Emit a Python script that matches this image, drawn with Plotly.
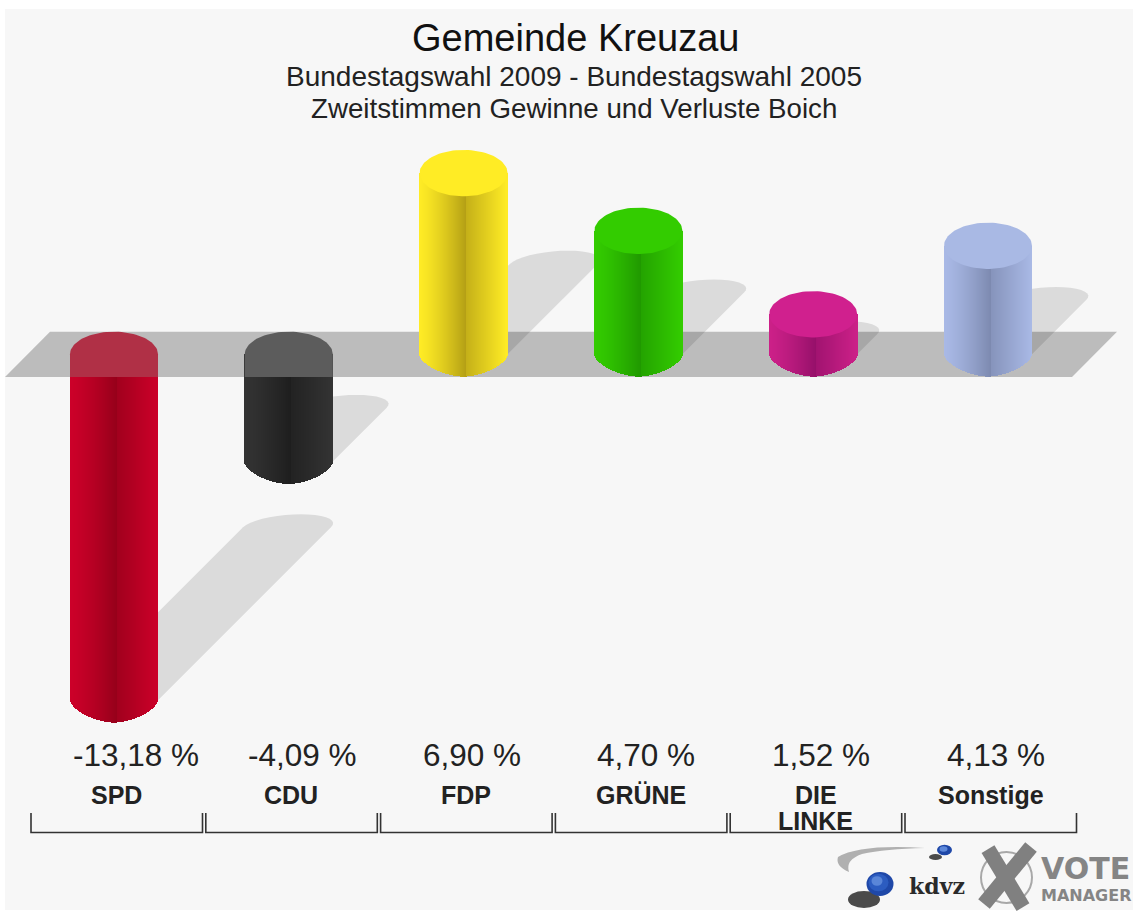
import math
import plotly.graph_objects as go

parties = ["SPD", "CDU", "FDP", "GRÜNE", "DIE<br>LINKE", "Sonstige"]
changes = [-13.18, -4.09, 6.90, 4.70, 1.52, 4.13]

colors_light = ["#cc0029", "#333333", "#ffec25", "#33cc00", "#cc2088", "#a9b9e6"]
colors_dark = ["#96001a", "#1e1e1e", "#b5a015", "#209900", "#96106a", "#7d8ab0"]
colors_cap = ["#b03046", "#5c5c5c", "#ffec25", "#33cc00", "#d0208e", "#a9b9e4"]

W, H = 1133, 911
PX_PER_CAT = 174.8
PX_PER_UNIT = 26.25
X0_PX = 114.0
Y0_PX = 354.2
HALF_W = 44 / PX_PER_CAT
HALF_H = 22.5 / PX_PER_UNIT
CAP_H = 23.2 / PX_PER_UNIT
STRIP_PX = 1.0


def hexrgb(c):
    return tuple(int(c[i:i + 2], 16) for i in (1, 3, 5))


def mix(a, b, t):
    ra, rb = hexrgb(a), hexrgb(b)
    return "rgb(%d,%d,%d)" % tuple(round(p + (q - p) * t) for p, q in zip(ra, rb))


def px(x):
    return x / W


def py(y):
    return 1 - y / H


shapes = []
fig = go.Figure()

# backdrop and floor plane
shapes.append(dict(type="rect", xref="paper", yref="paper", x0=px(5), x1=1, y0=py(910), y1=py(9),
                   fillcolor="#f7f7f7", line_width=0, layer="below"))
shapes.append(dict(type="path", xref="paper", yref="paper",
                   path=f"M{px(50)},{py(331.7)} L{px(1117)},{py(331.7)} L{px(1072)},{py(377)} L{px(5)},{py(377)} Z",
                   fillcolor="#bcbcbc", line_width=0, layer="below"))

# cast shadows, derived from the value of each bar
for i, v in enumerate(changes):
    cx = X0_PX + i * PX_PER_CAT
    h = abs(v) * PX_PER_UNIT
    low = Y0_PX if v > 0 else Y0_PX + h
    tx = cx + 0.5 * h
    ty = low - 0.5 * h
    wp, hp, skew = 44, 13, 14
    pts = []
    for a in range(0, 181, 10):  # far end, right corner over the top to left corner
        t = math.radians(a)
        pts.append((tx + wp * math.cos(t) + skew * math.sin(t), ty - hp * math.sin(t)))
    pts.append((cx - wp, low))
    pts.append((cx + wp, low))
    path = "M" + " L".join(f"{px(a)},{py(b)}" for a, b in pts) + " Z"
    shapes.append(dict(type="path", xref="paper", yref="paper", path=path,
                       fillcolor="rgba(0,0,0,0.11)", line_width=0, layer="below"))

# cylinder bodies as narrow gradient strips
n = int(2 * 44 / STRIP_PX)
for i, v in enumerate(changes):
    xs, tops, bases, cols = [], [], [], []
    for s in range(n):
        u = -1 + (s + 0.5) * 2 / n
        peak = 0.06
        if u < peak:
            t = ((u + 1) / (1 + peak)) ** 1.3
        else:
            t = 0.8 * (1 - (u - peak) / (1 - peak))
        low = min(v, 0) - HALF_H * (1 - abs(u) ** 1.65) ** (1 / 1.65)
        xs.append(i + u * HALF_W)
        bases.append(low)
        tops.append(max(v, 0) - low)
        cols.append(mix(colors_light[i], colors_dark[i], t))
    fig.add_trace(go.Bar(x=xs, y=tops, base=bases, width=STRIP_PX / PX_PER_CAT,
                         marker=dict(color=cols, line=dict(width=0)),
                         hoverinfo="skip", showlegend=False))

# caps
for i, v in enumerate(changes):
    lvl = max(v, 0)
    ang = [math.radians(a) for a in range(0, 361, 4)]
    if v > 0:
        cxs = [i + HALF_W * math.cos(a) for a in ang]
        cys = [lvl + CAP_H * math.sin(a) for a in ang]
    else:
        top = [a for a in ang if a <= math.pi + 1e-9]
        floor = -22.8 / PX_PER_UNIT
        cxs = [i + HALF_W * math.cos(a) for a in top] + [i - HALF_W, i + HALF_W, i + HALF_W]
        cys = [lvl + HALF_H * math.sin(a) for a in top] + [floor, floor, 0]
    fig.add_trace(go.Scatter(x=cxs, y=cys, mode="lines", fill="toself", fillcolor=colors_cap[i],
                             line=dict(width=0), hoverinfo="skip", showlegend=False))

# brackets beneath the categories
for i in range(len(parties)):
    x0 = i + (31 - X0_PX) / PX_PER_CAT
    x1 = i + (202.5 - X0_PX) / PX_PER_CAT
    shapes.append(dict(type="path", xref="x", yref="paper",
                       path=f"M{x0},{py(813)} L{x0},{py(832.5)} L{x1},{py(832.5)} L{x1},{py(813)}",
                       line=dict(color="#333333", width=1.6), layer="above"))

annotations = []


def label(text, x, y, size, color="#222222", weight=400, anchor="center", xref="paper", xshift=0, family="Liberation Sans"):
    annotations.append(dict(text=text, x=x, y=y, xref=xref, yref="paper", xanchor=anchor, yanchor="middle",
                            showarrow=False, xshift=xshift, align="center",
                            font=dict(family=family, size=size, color=color, weight=weight)))


label("Gemeinde Kreuzau", px(575), py(38), 38, "#111111")
label("Bundestagswahl 2009 - Bundestagswahl 2005", px(573.5), py(76), 28)
label("Zweitstimmen Gewinne und Verluste Boich", px(573.5), py(109), 27.7)

for i, v in enumerate(changes):
    txt = f"{v:.2f}".replace(".", ",") + " %"
    label(txt, i, py(755), 31.5, anchor="left", xref="x", xshift=-43)
    for k, line in enumerate(parties[i].split("<br>")):
        label(line, i, py(795 + 26 * k), 25, weight=700, xref="x", xshift=2.5)

# logos
# kdvz swoosh
shapes.append(dict(type="path", xref="paper", yref="paper",
                   path=f"M{px(925)},{py(848)} Q{px(860)},{py(844)} {px(838)},{py(857)} Q{px(835)},{py(866)} {px(849)},{py(872)} Q{px(845)},{py(860)} {px(862)},{py(854)} Q{px(885)},{py(849)} {px(925)},{py(848)} Z",
                   fillcolor="#b0b0b0", line_width=0, layer="above"))
# sphere shadows
shapes.append(dict(type="circle", xref="paper", yref="paper", x0=px(848), x1=px(880), y0=py(908), y1=py(891),
                   fillcolor="rgba(30,30,30,0.8)", line_width=0, layer="above"))
shapes.append(dict(type="circle", xref="paper", yref="paper", x0=px(929), x1=px(942), y0=py(860), y1=py(854),
                   fillcolor="rgba(30,30,30,0.8)", line_width=0, layer="above"))
for r, c, off in [(13.5, "#1f48a8", 0), (10, "#2c5cc0", -1.5), (5.5, "#5a86d8", -3)]:
    cx0, cy0 = 880 + off, 884 + off
    shapes.append(dict(type="circle", xref="paper", yref="paper", x0=px(cx0 - r), x1=px(cx0 + r),
                       y0=py(cy0 + r * 0.88), y1=py(cy0 - r * 0.88), fillcolor=c, line_width=0, layer="above"))
for r, c, off in [(7.5, "#1f48a8", 0), (4, "#5d88da", -1)]:
    cx0, cy0 = 944.5 + off, 850 + off
    shapes.append(dict(type="circle", xref="paper", yref="paper", x0=px(cx0 - r), x1=px(cx0 + r),
                       y0=py(cy0 + r * 0.7), y1=py(cy0 - r * 0.7), fillcolor=c, line_width=0, layer="above"))
# vote X
shapes.append(dict(type="circle", xref="paper", yref="paper", x0=px(981), x1=px(1032), y0=py(903), y1=py(852),
                   fillcolor="rgba(0,0,0,0)", line=dict(color="#a8a8a8", width=2), layer="above"))
for (a, b, c, d) in [(988, 849, 1023, 907), (1031, 847, 984, 904)]:
    shapes.append(dict(type="line", xref="paper", yref="paper", x0=px(a), y0=py(b), x1=px(c), y1=py(d),
                       line=dict(color="#808080", width=15), layer="above"))

label("kdvz", px(937), py(886), 22, "#2a2a2a", 700, family="DejaVu Serif")
label("VOTE", px(1085), py(868), 30, "#858585", 700, family="DejaVu Sans")
label("MANAGER", px(1086), py(895), 16, "#858585", 700, family="DejaVu Sans")

fig.update_layout(
    width=W, height=H, autosize=False,
    margin=dict(l=0, r=0, t=0, b=0, pad=0),
    paper_bgcolor="#ffffff", plot_bgcolor="rgba(0,0,0,0)",
    barmode="overlay", bargap=0, showlegend=False,
    xaxis=dict(visible=False, range=[-X0_PX / PX_PER_CAT, (W - X0_PX) / PX_PER_CAT], fixedrange=True),
    yaxis=dict(visible=False, range=[(Y0_PX - H) / PX_PER_UNIT, Y0_PX / PX_PER_UNIT], fixedrange=True),
    shapes=shapes, annotations=annotations,
)
fig.write_html("out.html", config={"displayModeBar": False},
               post_script="document.body.style.margin='0';document.body.style.overflow='hidden';")
